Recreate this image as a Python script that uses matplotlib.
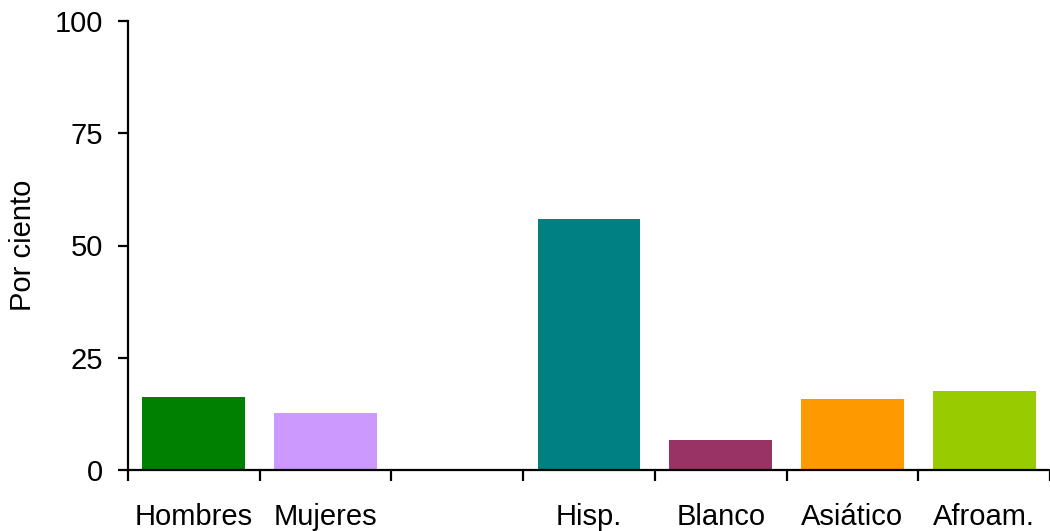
import matplotlib
matplotlib.use("Agg")
import matplotlib.pyplot as plt
import numpy as np

categories = ["Hombres", "Mujeres", "", "Hisp.", "Blanco", "Asiático", "Afroam."]
values = [16.3, 12.7, 0.0, 55.9, 6.7, 15.8, 17.6]
colors = ["#008000", "#CC99FF", "#FFFFFF", "#008080", "#993366", "#FF9900", "#99CC00"]
y_ticks = [0, 25, 50, 75, 100]

plt.rcParams["font.family"] = ["Liberation Sans", "DejaVu Sans"]

fig = plt.figure(figsize=(10.5, 5.31), dpi=100)
ax = fig.add_axes([128 / 1050, 61 / 531, 1 - 128 / 1050, (470 - 21) / 531])

x = np.arange(len(categories))
for xi, v, c, name in zip(x, values, colors, categories):
    if name:
        ax.bar(xi, v, width=0.78, color=c, edgecolor="none", zorder=2)

ax.set_xlim(-0.5, len(categories) - 0.5)
ax.set_ylim(0, 100)

for s in ["top", "right"]:
    ax.spines[s].set_visible(False)
for s in ["left", "bottom"]:
    ax.spines[s].set_linewidth(1.6)
    ax.spines[s].set_color("black")
    ax.spines[s].set_zorder(3)
ax.spines["left"].set_bounds(0, 100)

ax.set_yticks(y_ticks)
ax.set_yticklabels([str(t) for t in y_ticks], fontsize=21)
ax.tick_params(axis="y", direction="out", length=7, width=1.6, pad=11)

# boundary ticks (major) and centred labels (minor)
ax.set_xticks(np.arange(-0.5, len(categories), 1.0))
ax.set_xticklabels([])
ax.tick_params(axis="x", which="major", direction="out", length=8, width=1.6)
ax.set_xticks(x, minor=True)
ax.set_xticklabels(categories, minor=True, fontsize=21)
ax.tick_params(axis="x", which="minor", length=0, pad=24)

ax.set_ylabel("Por ciento", fontsize=21, labelpad=13)

fig.savefig("out.png", dpi=100)
